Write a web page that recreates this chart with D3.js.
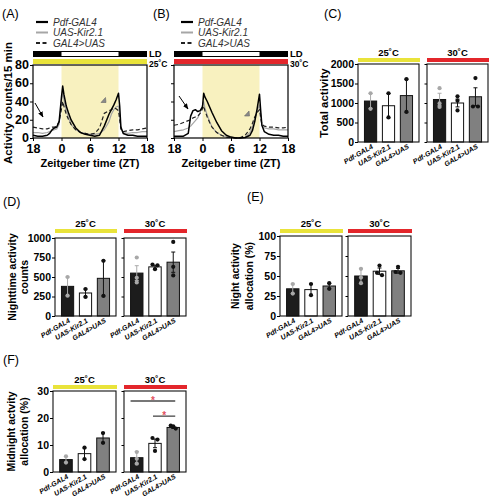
<!DOCTYPE html>
<html><head><meta charset="utf-8">
<script src="https://cdn.jsdelivr.net/npm/d3@7/dist/d3.min.js"></script>
<style>body{margin:0;background:#fff}svg{display:block}text{font-family:"Liberation Sans",Arial,sans-serif}</style>
</head><body><svg id="c" width="491" height="500"></svg>
<script>
// ---------- DATA ----------
const genotypes = ["Pdf-GAL4", "UAS-Kir2.1", "GAL4>UAS"];
const temps = ["25˚C", "30˚C"];
const ztTickValues = [-6, 0, 6, 12, 18];
const ztTickLabels = ["18", "0", "6", "12", "18"];
const activityTicks = [0, 20, 40, 60, 80];

const zt = [-6,-5,-4,-3,-2.5,-2,-1.5,-1,-0.5,0,0.25,0.5,1,1.5,2,3,4,5,6,7,8,9,10,10.5,11,11.5,12,12.25,12.5,13,14,15,16,17,18];

// Panel A (25˚C) activity counts / 15 min
const a25_pdf  = [3,2,2,3,5,9,11,12,18,45,57,48,35,27,20,11,6,4,3,2,3,13,26,31,36,42,49,35,12,5,3,3,2,2,2];
const a25_uas  = [6,6,5,6,7,8,9,10,15,40,50,42,30,22,15,9,6,5,4,4,5,9,18,26,31,34,35,25,10,6,5,6,6,7,7];
const a25_cross= [12,11,10,10,11,12,12,13,18,32,40,35,26,20,15,9,6,5,4,5,11,27,30,31,33,32,30,20,10,7,8,9,9,10,11];
// Panel B (30˚C)
const a30_pdf  = [2,2,2,5,24,30,31,29,30,34,49,45,40,34,28,17,8,3,1,0,0,0.5,3,8,18,32,48,30,14,7,4,3,3,2,2];
const a30_uas  = [7,8,9,11,13,16,19,22,28,36,40,33,25,18,12,6,3,1,0.5,0,0,1,6,12,22,30,36,25,14,11,10,10,9,9,9];
const a30_cross= [14,15,17,19,20,22,23,24,27,32,35,30,23,17,12,6,3,1,0.5,0,0.5,3,10,16,23,28,31,22,15,13,12,12,11,11,12];

// Panel C: total activity
const totalTicks = [0, 500, 1000, 1500, 2000];
const total25Mean = [1050, 930, 1190];
const total25Sem  = [195, 310, 425];
const total25Pts  = [[1250, 850], [1250, 630], [1610, 770]];
const total30Mean = [1090, 1000, 1160];
const total30Sem  = [160, 100, 230];
const total30Pts  = [[1380, 990, 900], [1170, 1060, 810], [1640, 910, 910]];

// Panel D: nighttime activity counts
const nightTicks = [0, 250, 500, 750, 1000];
const night25Mean = [380, 295, 483];
const night25Sem  = [120, 50, 225];
const night25Pts  = [[500, 260], [345, 245], [708, 258]];
const night30Mean = [550, 630, 690];
const night30Sem  = [95, 20, 130];
const night30Pts  = [[750, 490, 430], [660, 650, 600], [950, 630, 520]];

// Panel E: night activity allocation (%)
const allocTicks = [0, 25, 50, 75, 100];
const alloc25Mean = [34, 33, 37.5];
const alloc25Sem  = [6, 7, 3.5];
const alloc25Pts  = [[40, 28], [40, 26], [41, 34]];
const alloc30Mean = [50, 56, 56.5];
const alloc30Sem  = [9, 4, 3];
const alloc30Pts  = [[59, 48, 41], [63, 54, 51], [61.5, 55, 54]];

// Panel F: midnight activity allocation (%)
const midTicks = [0, 10, 20, 30];
const mid25Mean = [4.6, 6.8, 12.6];
const mid25Sem  = [1.1, 2.1, 1.9];
const mid25Pts  = [[5.8, 3.5], [9, 4.8], [14.4, 10.8]];
const mid30Mean = [5.3, 10.6, 16.5];
const mid30Sem  = [2.3, 1.6, 0.4];
const mid30Pts  = [[7.4, 4.9, 3.1], [12.6, 12, 7.8], [17.2, 16.9, 16.1]];
const mid30Sig  = [{from: 0, to: 2, level: 26.3, label: "*"}, {from: 1, to: 2, level: 20.7, label: "*"}];

// ---------- STYLE ----------
const svg = d3.select("#c");
const FONT = '"Liberation Sans",Arial,sans-serif';
const tempColors = ["#e9e33a", "#e3262b"];
const barFill = ["#1c1c1c", "#ffffff", "#808080"];
const lineStyles = [
  {key: "uas", stroke: "#a6a6a6", width: 1.2, dash: null},
  {key: "cross", stroke: "#222", width: 1.2, dash: "4,2.5"},
  {key: "pdf", stroke: "#000", width: 1.5, dash: null}
];

function txt(x, y, s, size, opts = {}) {
  const t = svg.append("text").attr("x", x).attr("y", y).text(s)
    .attr("font-size", size).attr("font-weight", opts.weight || "bold")
    .attr("fill", opts.fill || "#000");
  if (opts.anchor) t.attr("text-anchor", opts.anchor);
  if (opts.italic) t.attr("font-style", "italic");
  if (opts.rotate !== undefined) t.attr("transform", `rotate(${opts.rotate},${x},${y})`);
  return t;
}

function styleAxis(g, size) {
  g.select(".domain").remove();
  g.selectAll(".tick line").attr("stroke", "#000").attr("stroke-width", 1);
  g.selectAll(".tick text").attr("font-family", FONT).attr("font-size", size)
    .attr("font-weight", "bold").attr("fill", "#000");
}

// ---------- LINE PANELS ----------
function linePanel(p) {
  const x = d3.scaleLinear().domain([-6, 18]).range([p.x0, p.x1]);
  const y = d3.scaleLinear().domain([0, 80]).range([138, 65]);
  const g = svg.append("g");
  g.append("rect").attr("x", x(0)).attr("y", y(80)).attr("width", x(12) - x(0))
    .attr("height", y(0) - y(80)).attr("fill", "#f8f1bf");
  const line = d3.line().x((d, i) => x(zt[i])).y(d => y(d)).curve(d3.curveLinear);
  lineStyles.forEach(s => {
    g.append("path").datum(p.series[s.key]).attr("d", line).attr("fill", "none")
      .attr("stroke", s.stroke).attr("stroke-width", s.width)
      .attr("stroke-dasharray", s.dash).attr("stroke-linejoin", "round");
  });
  g.append("rect").attr("x", x(-6)).attr("y", y(80)).attr("width", x(18) - x(-6))
    .attr("height", y(0) - y(80)).attr("fill", "none").attr("stroke", "#000").attr("stroke-width", 1.2);
  const ax = g.append("g").attr("transform", `translate(0,${y(0)})`)
    .call(d3.axisBottom(x).tickValues(ztTickValues).tickFormat((d, i) => ztTickLabels[i]).tickSize(3).tickPadding(3));
  styleAxis(ax, 12.5);
  const ay = g.append("g").attr("transform", `translate(${x(-6)},0)`)
    .call(d3.axisLeft(y).tickValues(activityTicks).tickSize(3).tickPadding(1)
      .tickFormat(p.yLabels ? d3.format("d") : ""));
  styleAxis(ay, 12.5);
  ay.selectAll(".tick text").attr("dy", "0.28em");
  // LD bar
  g.append("rect").attr("x", x(-6)).attr("y", 51).attr("width", x(18) - x(-6)).attr("height", 6).attr("fill", "#000");
  g.append("rect").attr("x", x(0)).attr("y", 52).attr("width", x(12) - x(0)).attr("height", 4).attr("fill", "#fff");
  txt(x(18) + 2, 57, "LD", 9.5);
  g.append("rect").attr("x", x(-6)).attr("y", 59).attr("width", x(18) - x(-6)).attr("height", 5).attr("fill", p.tempColor);
  txt(x(18) + 2, 67, p.temp, 8.5);
  // arrow
  const [ax0, ay0, ax1, ay1] = p.arrow;
  g.append("line").attr("x1", ax0).attr("y1", ay0).attr("x2", ax1).attr("y2", ay1)
    .attr("stroke", "#000").attr("stroke-width", 1).attr("marker-end", "url(#arr)");
  // triangle marker
  const [tx, ty] = p.tri;
  g.append("path").attr("d", `M${tx},${ty + 5}L${tx + 5},${ty + 5}L${tx + 4.5},${ty}Z`)
    .attr("fill", "#8a8a8a").attr("stroke", "#666").attr("stroke-width", 0.6);
  // x title
  txt((x(-6) + x(18)) / 2, 167, "Zeitgeber time (ZT)", 11, {anchor: "middle"});
  // legend
  const legendKeys = [["pdf", genotypes[0]], ["uas", genotypes[1]], ["cross", genotypes[2]]];
  legendKeys.forEach(([k, name], i) => {
    const s = lineStyles.find(l => l.key === k);
    const ly = 22 + i * 10.5;
    g.append("line").attr("x1", p.legX).attr("x2", p.legX + 12).attr("y1", ly).attr("y2", ly)
      .attr("stroke", s.stroke).attr("stroke-width", k === "pdf" ? 2.2 : 2).attr("stroke-dasharray", s.dash);
    txt(p.legX + 17, ly + 3.5, name, 10, {weight: "normal", italic: true, fill: "#333"});
  });
}

svg.append("defs").append("marker").attr("id", "arr").attr("viewBox", "0 0 10 10")
  .attr("refX", 9).attr("refY", 5).attr("markerWidth", 6).attr("markerHeight", 6)
  .attr("orient", "auto").append("path").attr("d", "M0,1L10,5L0,9Z").attr("fill", "#000");

linePanel({x0: 33, x1: 147, yLabels: true, temp: temps[0], tempColor: tempColors[0],
  series: {pdf: a25_pdf, uas: a25_uas, cross: a25_cross},
  arrow: [35, 103, 43, 117], tri: [101, 97.5], legX: 36});
linePanel({x0: 174, x1: 288, yLabels: false, temp: temps[1], tempColor: tempColors[1],
  series: {pdf: a30_pdf, uas: a30_uas, cross: a30_cross},
  arrow: [179, 96, 188, 109], tri: [244.5, 111], legX: 181});

txt(12, 103, "Activity counts/15 min", 11.5, {anchor: "middle", rotate: -90});

// ---------- BAR PANELS ----------
function barPanel(p) {
  const y = d3.scaleLinear().domain([0, p.max]).range([p.yb, p.yt]);
  p.boxes.forEach((bx, k) => {
    const x = d3.scaleBand().domain(genotypes).range(bx).paddingInner(0.32).paddingOuter(0.36);
    const means = p.means[k], sems = p.sems[k], pts = p.pts[k];
    svg.append("rect").attr("x", bx[0]).attr("y", p.barY).attr("width", bx[1] - bx[0] + 1)
      .attr("height", 4).attr("fill", tempColors[k]);
    txt((bx[0] + bx[1]) / 2, p.titleY, temps[k], 9.5, {anchor: "middle"});
    genotypes.forEach((gname, i) => {
      const cx = x(gname) + x.bandwidth() / 2;
      svg.append("rect").attr("x", x(gname)).attr("y", y(means[i])).attr("width", x.bandwidth())
        .attr("height", y(0) - y(means[i])).attr("fill", barFill[i]).attr("stroke", "#111").attr("stroke-width", 1);
      const ec = i === 0 ? "#aaa" : "#111";
      const lo = Math.max(0, means[i] - sems[i]), hi = means[i] + sems[i];
      svg.append("line").attr("x1", cx).attr("x2", cx).attr("y1", y(lo)).attr("y2", y(hi)).attr("stroke", ec).attr("stroke-width", 1);
      [lo, hi].forEach(v => svg.append("line").attr("x1", cx - 2).attr("x2", cx + 2).attr("y1", y(v)).attr("y2", y(v))
        .attr("stroke", ec).attr("stroke-width", 1));
      const vals = pts[i];
      vals.forEach((v, j) => {
        const close = vals.map((w, m) => m).filter(m => Math.abs(vals[m] - v) < p.max * 0.035);
        const rank = close.indexOf(j);
        const off = close.length > 1 ? (rank - (close.length - 1) / 2) * 5 : 0;
        svg.append("circle").attr("cx", cx + off).attr("cy", y(v)).attr("r", 2.1)
          .attr("fill", i === 0 ? "#a8a8a8" : "#111");
      });
      // rotated genotype label
      const lx = cx + 3, ly = p.yb + 6;
      txt(lx, ly, gname, 7, {anchor: "end", italic: true, rotate: -30});
    });
    svg.append("rect").attr("x", bx[0]).attr("y", p.yt).attr("width", bx[1] - bx[0]).attr("height", p.yb - p.yt)
      .attr("fill", "none").attr("stroke", "#111").attr("stroke-width", 1.1);
    const ay = svg.append("g").attr("transform", `translate(${bx[0]},0)`)
      .call(d3.axisLeft(y).tickValues(p.ticks).tickSize(k === 0 ? 3 : 2.5).tickPadding(1)
        .tickFormat(k === 0 ? d3.format("d") : ""));
    styleAxis(ay, 10.5);
    ay.selectAll(".tick text").attr("dy", "0.3em");
    if (p.sig && k === 1) {
      p.sig.forEach((s, si) => {
        const xa = x(genotypes[s.from]) + (si === 0 ? 0 : x.bandwidth() / 2 - 2);
        const xb = x(genotypes[s.to]) + x.bandwidth() / 2 + 2;
        svg.append("line").attr("x1", xa).attr("x2", xb).attr("y1", y(s.level)).attr("y2", y(s.level))
          .attr("stroke", si === 0 ? "#777" : "#111").attr("stroke-width", si === 0 ? 2 : 1);
        txt((xa + xb) / 2, y(s.level) + 3, s.label, 10, {anchor: "middle", fill: "#e2505e"});
      });
    }
  });
  p.ylab.forEach((s, i) => txt(p.ylabX[i], (p.yt + p.yb) / 2, s, p.ylabSize || 10.5, {anchor: "middle", rotate: -90}));
}

barPanel({boxes: [[358, 419], [427, 488]], yt: 64, yb: 142, max: 2000, ticks: totalTicks,
  means: [total25Mean, total30Mean], sems: [total25Sem, total30Sem], pts: [total25Pts, total30Pts],
  barY: 58, titleY: 56, ylab: ["Total activity"], ylabX: [328], ylabSize: 11.5});
barPanel({boxes: [[55, 116], [124, 186]], yt: 238, yb: 316, max: 1000, ticks: nightTicks,
  means: [night25Mean, night30Mean], sems: [night25Sem, night30Sem], pts: [night25Pts, night30Pts],
  barY: 229, titleY: 227, ylab: ["Nighttime activity", "counts"], ylabX: [16, 28]});
barPanel({boxes: [[280, 342], [348, 411]], yt: 236, yb: 316, max: 100, ticks: allocTicks,
  means: [alloc25Mean, alloc30Mean], sems: [alloc25Sem, alloc30Sem], pts: [alloc25Pts, alloc30Pts],
  barY: 229, titleY: 227, ylab: ["Night activity", "allocation (%)"], ylabX: [239, 253]});
barPanel({boxes: [[53, 116], [124, 186]], yt: 391, yb: 472, max: 30, ticks: midTicks,
  means: [mid25Mean, mid30Mean], sems: [mid25Sem, mid30Sem], pts: [mid25Pts, mid30Pts], sig: mid30Sig,
  barY: 385, titleY: 383, ylab: ["Midnight actvity", "allocation (%)"], ylabX: [15, 28]});

// panel letters
[["(A)", 2, 18], ["(B)", 153, 18], ["(C)", 324, 18], ["(D)", 3, 206], ["(E)", 247, 201], ["(F)", 3, 364]]
  .forEach(([s, x, y]) => txt(x, y, s, 12.5, {weight: "normal"}));
</script></body></html>
